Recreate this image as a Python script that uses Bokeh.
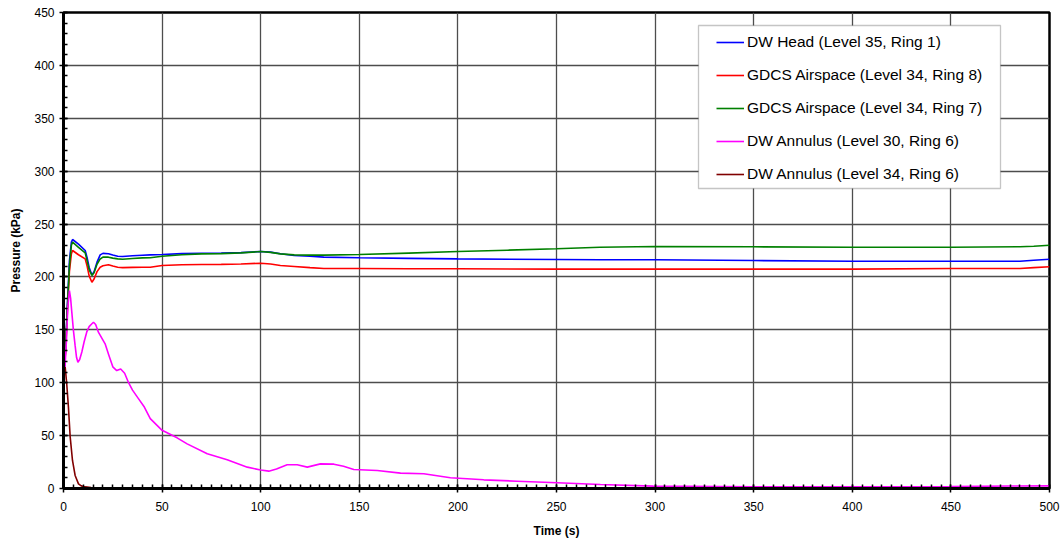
from bokeh.plotting import figure
from bokeh.models import Range1d, Legend, LegendItem, BoxAnnotation, SingleIntervalTicker
from bokeh.embed import file_html
from bokeh.resources import INLINE

# ---- data ----
t_head = [0, 1, 2, 3, 4, 4.6, 7.6, 11, 12, 13, 14.4, 15.5, 17, 18.6, 20, 22.8, 25, 27.5, 30, 35, 40, 44,
          50, 60, 70, 80, 90, 100, 105, 110, 117, 125, 132, 150, 175, 200, 250, 272, 300, 350, 400, 450,
          485, 492, 500]
p_head = [101, 130, 175, 215, 233, 235.4, 231, 225, 218, 209, 202, 205, 214, 220.9, 222.3, 221.9, 220.8,
          219.6, 219.3, 220, 220.5, 220.9, 221.2, 222, 222.4, 222.5, 223, 224, 223.5, 222, 220.3, 219.5,
          218.7, 218.1, 217.6, 217.1, 216.5, 216.2, 216.2, 215.5, 214.9, 214.9, 214.9, 215.8, 216.8]

t_gdcs8 = [0, 1, 2, 3, 4, 4.6, 7.6, 11, 12, 13, 14.4, 15.5, 17, 18.6, 20, 22.8, 25, 27.5, 30, 35, 40, 44,
           50, 60, 70, 80, 90, 100, 105, 110, 117, 125, 132, 150, 175, 200, 250, 300, 350, 400, 450, 485,
           492, 500]
p_gdcs8 = [101, 128, 168, 205, 222, 225, 221, 217.1, 210, 201, 195, 198, 205, 209.2, 210.5, 211.5, 210.3,
           209.2, 208.8, 209, 209.2, 209.2, 210.8, 211.5, 211.8, 211.9, 212.3, 213, 212.2, 210.8, 209.9,
           208.8, 208, 208, 207.8, 207.7, 207.4, 207.4, 207.4, 207.4, 208, 208, 208.8, 209.6]

t_gdcs7 = [0, 1, 2, 3, 4, 4.6, 7.6, 11, 12, 13, 14.4, 15.5, 17, 18.6, 20, 22.8, 25, 27.5, 30, 35, 40, 44,
           50, 60, 70, 80, 90, 100, 105, 110, 117, 125, 132, 150, 175, 200, 225, 250, 272, 300, 350, 400,
           450, 485, 492, 500]
p_gdcs7 = [101, 130, 172, 210, 230, 232.9, 228, 222.8, 215, 207, 201.4, 204, 212, 217, 218.7, 218.7, 217.8,
           217.1, 216.8, 217.5, 218, 218.1, 219.6, 221, 221.8, 222, 222.8, 224, 223.2, 221.8, 220.9, 220.6,
           220.6, 221.2, 222.5, 224, 225.3, 226.6, 228.1, 228.8, 228.5, 228.1, 228.1, 228.5, 229, 230]

t_ann30 = [0, 0.8, 1.5, 2.2, 3, 3.6, 4.2, 5, 5.9, 6.6, 7.3, 8.2, 9.3, 10.5, 11.8, 13, 14.4, 15.2, 16.3, 17.7,
           19.5, 21.1, 23, 25, 27, 29, 31, 33, 35, 38, 41, 44, 50, 57.6, 62.7, 72.9, 83, 93.2, 100, 104.1,
           108, 113.4, 118.5, 123.6, 130.3, 137.1, 142, 147.2, 159.1, 170.9, 182.7, 196.2, 213.1, 230,
           250.3, 272.3, 299, 350, 400, 450, 480, 500]
p_ann30 = [103, 116, 140, 172, 187, 180, 167, 150, 135, 124, 119.4, 122, 129, 139, 148, 153, 155.7, 157.2,
           155, 147.8, 142, 136.8, 126, 115, 111.5, 113, 109, 100, 93, 85, 77, 66, 55, 47.9, 42.2, 32.8,
           27.1, 20.2, 17.5, 16.4, 18.5, 22.4, 22.4, 20.2, 23.3, 23, 21, 18, 17, 14.5, 13.9, 10.1, 8.2, 6.9,
           5.4, 3.8, 2.2, 1.7, 1.6, 1.8, 2.3, 2.5]

t_ann34 = [0, 0.85, 1.6, 2.5, 3.4, 4.56, 5.9, 7.6, 9, 11, 14, 20, 30, 50, 100, 200, 300, 400, 500]
p_ann34 = [108, 114.7, 100, 76.9, 48.5, 26.5, 12.3, 4.4, 2.5, 1.5, 0.8, 0.4, 0.2, 0.1, 0.1, 0.1, 0.1, 0.1, 0.1]

labels = ["DW Head (Level 35, Ring 1)", "GDCS Airspace (Level 34, Ring 8)",
          "GDCS Airspace (Level 34, Ring 7)", "DW Annulus (Level 30, Ring 6)",
          "DW Annulus (Level 34, Ring 6)"]
colors = ["#0000FF", "#FF0000", "#008000", "#FF00FF", "#800000"]

FONT = "Liberation Sans"

p = figure(width=1060, height=541, output_backend="svg", toolbar_location=None,
           x_range=Range1d(0, 500), y_range=Range1d(0, 450),
           min_border_left=63, min_border_right=11, min_border_top=12, min_border_bottom=53)
p.background_fill_color = "white"
p.border_fill_color = "white"
p.outline_line_color = "black"
p.outline_line_width = 2.5

series = [(t_head, p_head), (t_gdcs8, p_gdcs8), (t_gdcs7, p_gdcs7), (t_ann30, p_ann30), (t_ann34, p_ann34)]
renderers = []
for (tx, py), c in zip(series, colors):
    r = p.line(tx, py, line_color=c, line_width=1.6)
    renderers.append(r)

# axes
p.xaxis.ticker = SingleIntervalTicker(interval=50, num_minor_ticks=10)
p.yaxis.ticker = SingleIntervalTicker(interval=50, num_minor_ticks=5)
for ax in (p.xaxis, p.yaxis):
    ax.axis_line_color = "black"
    ax.axis_line_width = 3
    ax.major_tick_line_color = "black"
    ax.major_tick_line_width = 1.5
    ax.minor_tick_line_color = "black"
    ax.minor_tick_line_width = 1.5
    ax.major_tick_in = 4
    ax.major_tick_out = 4
    ax.minor_tick_in = 4
    ax.minor_tick_out = 0
    ax.major_label_text_font = FONT
    ax.major_label_text_font_size = "12px"
    ax.major_label_text_color = "black"
    ax.axis_label_text_font = FONT
    ax.axis_label_text_font_size = "12px"
    ax.axis_label_text_font_style = "bold"
    ax.axis_label_text_color = "black"
p.xaxis.axis_label = "Time (s)"
p.yaxis.axis_label = "Pressure (kPa)"
p.xaxis.major_label_standoff = 9
p.xaxis.axis_label_standoff = 10
p.yaxis.major_label_standoff = 5
p.yaxis.axis_label_standoff = 8

# grid
p.xgrid.grid_line_color = "#4d4d4d"
p.ygrid.grid_line_color = "#4d4d4d"
p.xgrid.grid_line_width = 1.3
p.ygrid.grid_line_width = 1.3

# legend box
box = BoxAnnotation(left=698, right=1000, top=25, bottom=188,
                    left_units="canvas", right_units="canvas", top_units="canvas", bottom_units="canvas",
                    fill_color="white", fill_alpha=1.0, line_color="#404040", line_width=1.3)
p.add_layout(box)

legend = Legend(items=[LegendItem(label=l, renderers=[r]) for l, r in zip(labels, renderers)],
                location=(647, 298), padding=6, margin=0, spacing=13,
                glyph_width=28, glyph_height=20, label_height=20, label_standoff=3,
                label_text_font=FONT, label_text_font_size="15.5px", label_text_color="black",
                background_fill_alpha=0, border_line_alpha=0)
p.add_layout(legend)

open("out.html", "w").write(file_html(p, INLINE))
